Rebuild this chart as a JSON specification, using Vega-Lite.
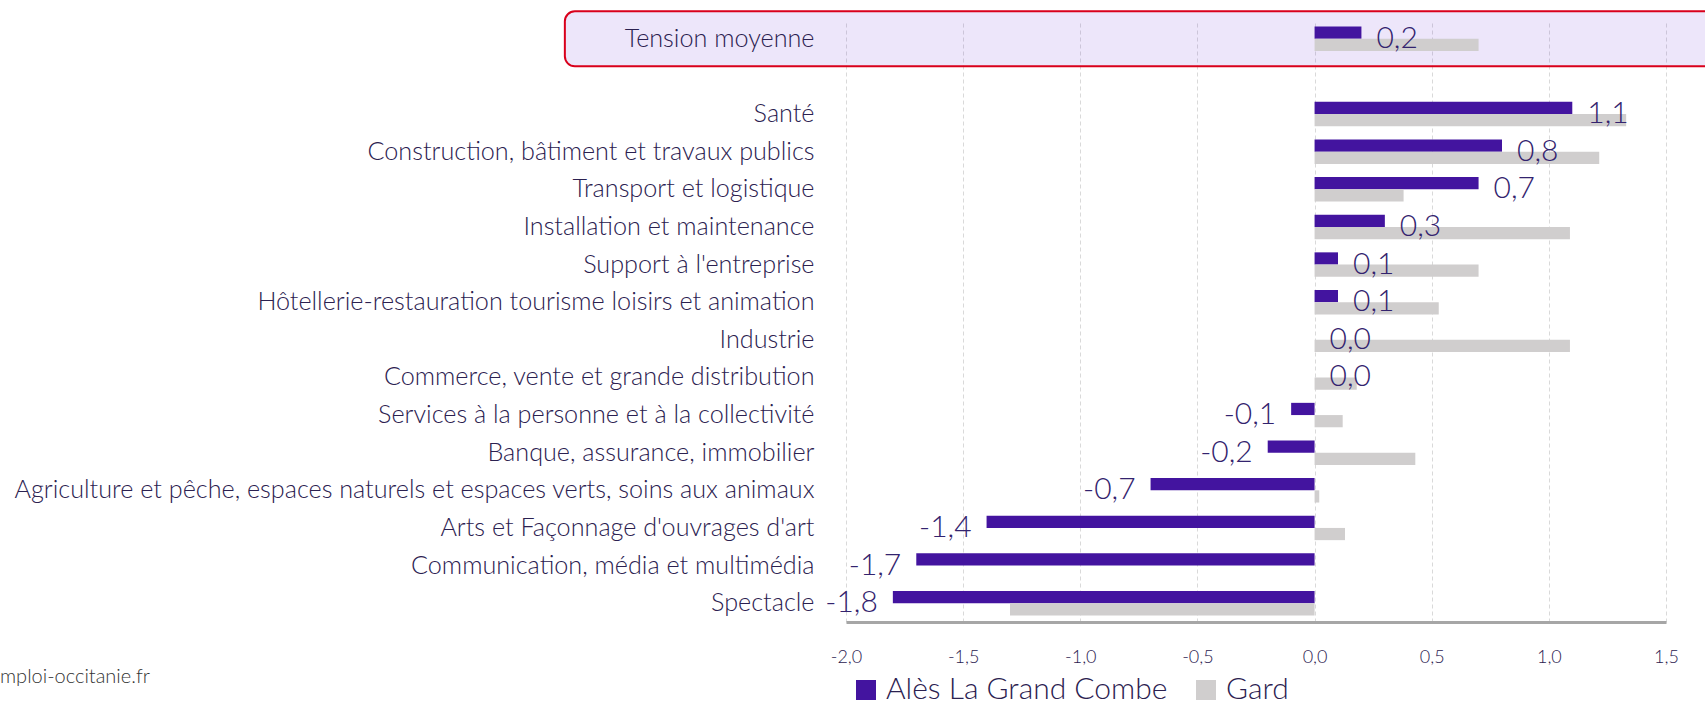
{
  "$schema": "https://vega.github.io/schema/vega-lite/v6.json",
  "width": 820,
  "height": 602,
  "autosize": "none",
  "padding": {"left": 846, "top": 20, "right": 39, "bottom": 85},
  "background": "white",
  "config": {
    "locale": {"number": {"decimal": ",", "thousands": " ", "grouping": [3], "currency": ["", " €"], "minus": "-"}},
    "view": {"stroke": null},
    "font": "Lato"
  },
  "title": {
    "text": "mploi-occitanie.fr",
    "orient": "bottom",
    "anchor": "start",
    "frame": "group",
    "dx": -846,
    "dy": -38,
    "offset": 0,
    "fontSize": 20,
    "fontWeight": 300,
    "color": "#333333"
  },
  "datasets": {
    "box": [{"cat": "Tension moyenne", "x1": -3.2, "x2": 1.8}],
    "main": [
      {"cat": "Tension moyenne", "serie": "Alès La Grand Combe", "value": 0.2},
      {"cat": "Tension moyenne", "serie": "Gard", "value": 0.7},
      {"cat": "Santé", "serie": "Alès La Grand Combe", "value": 1.1},
      {"cat": "Santé", "serie": "Gard", "value": 1.33},
      {"cat": "Construction, bâtiment et travaux publics", "serie": "Alès La Grand Combe", "value": 0.8},
      {"cat": "Construction, bâtiment et travaux publics", "serie": "Gard", "value": 1.215},
      {"cat": "Transport et logistique", "serie": "Alès La Grand Combe", "value": 0.7},
      {"cat": "Transport et logistique", "serie": "Gard", "value": 0.38},
      {"cat": "Installation et maintenance", "serie": "Alès La Grand Combe", "value": 0.3},
      {"cat": "Installation et maintenance", "serie": "Gard", "value": 1.09},
      {"cat": "Support à l'entreprise", "serie": "Alès La Grand Combe", "value": 0.1},
      {"cat": "Support à l'entreprise", "serie": "Gard", "value": 0.7},
      {"cat": "Hôtellerie-restauration tourisme loisirs et animation", "serie": "Alès La Grand Combe", "value": 0.1},
      {"cat": "Hôtellerie-restauration tourisme loisirs et animation", "serie": "Gard", "value": 0.53},
      {"cat": "Industrie", "serie": "Alès La Grand Combe", "value": 0.0},
      {"cat": "Industrie", "serie": "Gard", "value": 1.09},
      {"cat": "Commerce, vente et grande distribution", "serie": "Alès La Grand Combe", "value": 0.0},
      {"cat": "Commerce, vente et grande distribution", "serie": "Gard", "value": 0.18},
      {"cat": "Services à la personne et à la collectivité", "serie": "Alès La Grand Combe", "value": -0.1},
      {"cat": "Services à la personne et à la collectivité", "serie": "Gard", "value": 0.12},
      {"cat": "Banque, assurance, immobilier", "serie": "Alès La Grand Combe", "value": -0.2},
      {"cat": "Banque, assurance, immobilier", "serie": "Gard", "value": 0.43},
      {"cat": "Agriculture et pêche, espaces naturels et espaces verts, soins aux animaux", "serie": "Alès La Grand Combe", "value": -0.7},
      {"cat": "Agriculture et pêche, espaces naturels et espaces verts, soins aux animaux", "serie": "Gard", "value": 0.02},
      {"cat": "Arts et Façonnage d'ouvrages d'art", "serie": "Alès La Grand Combe", "value": -1.4},
      {"cat": "Arts et Façonnage d'ouvrages d'art", "serie": "Gard", "value": 0.13},
      {"cat": "Communication, média et multimédia", "serie": "Alès La Grand Combe", "value": -1.7},
      {"cat": "Communication, média et multimédia", "serie": "Gard", "value": 0.0},
      {"cat": "Spectacle", "serie": "Alès La Grand Combe", "value": -1.8},
      {"cat": "Spectacle", "serie": "Gard", "value": -1.3}
    ]
  },
  "encoding": {
    "y": {
      "field": "cat",
      "type": "nominal",
      "scale": {
        "domain": ["Tension moyenne", " ", "Santé", "Construction, bâtiment et travaux publics", "Transport et logistique", "Installation et maintenance", "Support à l'entreprise", "Hôtellerie-restauration tourisme loisirs et animation", "Industrie", "Commerce, vente et grande distribution", "Services à la personne et à la collectivité", "Banque, assurance, immobilier", "Agriculture et pêche, espaces naturels et espaces verts, soins aux animaux", "Arts et Façonnage d'ouvrages d'art", "Communication, média et multimédia", "Spectacle"],
        "paddingInner": 0,
        "paddingOuter": 0
      },
      "axis": {
        "title": null,
        "domain": false,
        "ticks": false,
        "grid": false,
        "labelPadding": 32,
        "labelFontSize": 25.2,
        "labelFontWeight": 300,
        "labelColor": "#2b2150",
        "labelLimit": 900,
        "zindex": 1
      }
    }
  },
  "layer": [
    {
      "data": {"name": "box"},
      "mark": {"type": "bar", "height": {"band": 1.46}, "cornerRadius": 10, "fill": "#7c4ddc", "fillOpacity": 0.14, "stroke": "#d9001b", "strokeWidth": 2, "clip": false},
      "encoding": {
        "x": {"field": "x1", "type": "quantitative", "scale": {"domain": [-2, 1.5], "nice": false, "zero": false}, "axis": {
          "title": null,
          "values": [-2, -1.5, -1, -0.5, 0, 0.5, 1, 1.5],
          "format": ".1f",
          "grid": true,
          "gridDash": [4, 3],
          "gridColor": "#d9d9d9",
          "gridWidth": 1,
          "domainColor": "#a6a6a6",
          "domainWidth": 3,
          "ticks": false,
          "labelFlush": false,
          "labelPadding": 26,
          "labelFontSize": 18,
          "labelFontWeight": 300,
          "labelColor": "#2b2150",
          "zindex": 0
        }},
        "x2": {"field": "x2"}
      }
    },
    {
      "data": {"name": "main"},
      "mark": {"type": "bar"},
      "encoding": {
        "x": {"field": "value", "type": "quantitative"},
        "yOffset": {"field": "serie", "type": "nominal", "sort": ["Alès La Grand Combe", "Gard"], "scale": {"paddingInner": 0, "paddingOuter": 0.54}},
        "color": {
          "field": "serie",
          "type": "nominal",
          "sort": ["Alès La Grand Combe", "Gard"],
          "scale": {"domain": ["Alès La Grand Combe", "Gard"], "range": ["#43149f", "#d0cece"]},
          "legend": {
            "title": null,
            "orient": "none",
            "legendX": 5,
            "legendY": 655,
            "direction": "horizontal",
            "symbolType": "square",
            "symbolSize": 400,
            "symbolStrokeWidth": 0,
            "labelFontSize": 30,
            "labelFontWeight": 300,
            "labelColor": "#2b2150",
            "labelLimit": 400,
            "columnPadding": 23,
            "labelOffset": 5
          }
        }
      }
    },
    {
      "data": {"name": "main"},
      "mark": {"type": "rule", "color": "#8c8c8c", "strokeWidth": 2},
      "encoding": {"x": {"datum": 0}}
    },
    {
      "data": {"name": "main"},
      "transform": [{"filter": "datum.serie === 'Alès La Grand Combe' && datum.value >= 0"}],
      "mark": {"type": "text", "align": "left", "baseline": "middle", "dx": 15, "fontSize": 30, "fontWeight": 300, "color": "#33236e"},
      "encoding": {
        "x": {"field": "value", "type": "quantitative"},
        "text": {"field": "value", "type": "quantitative", "format": ".1f"}
      }
    },
    {
      "data": {"name": "main"},
      "transform": [{"filter": "datum.serie === 'Alès La Grand Combe' && datum.value < 0"}],
      "mark": {"type": "text", "align": "right", "baseline": "middle", "dx": -15, "fontSize": 30, "fontWeight": 300, "color": "#33236e"},
      "encoding": {
        "x": {"field": "value", "type": "quantitative"},
        "text": {"field": "value", "type": "quantitative", "format": ".1f"}
      }
    }
  ]
}
